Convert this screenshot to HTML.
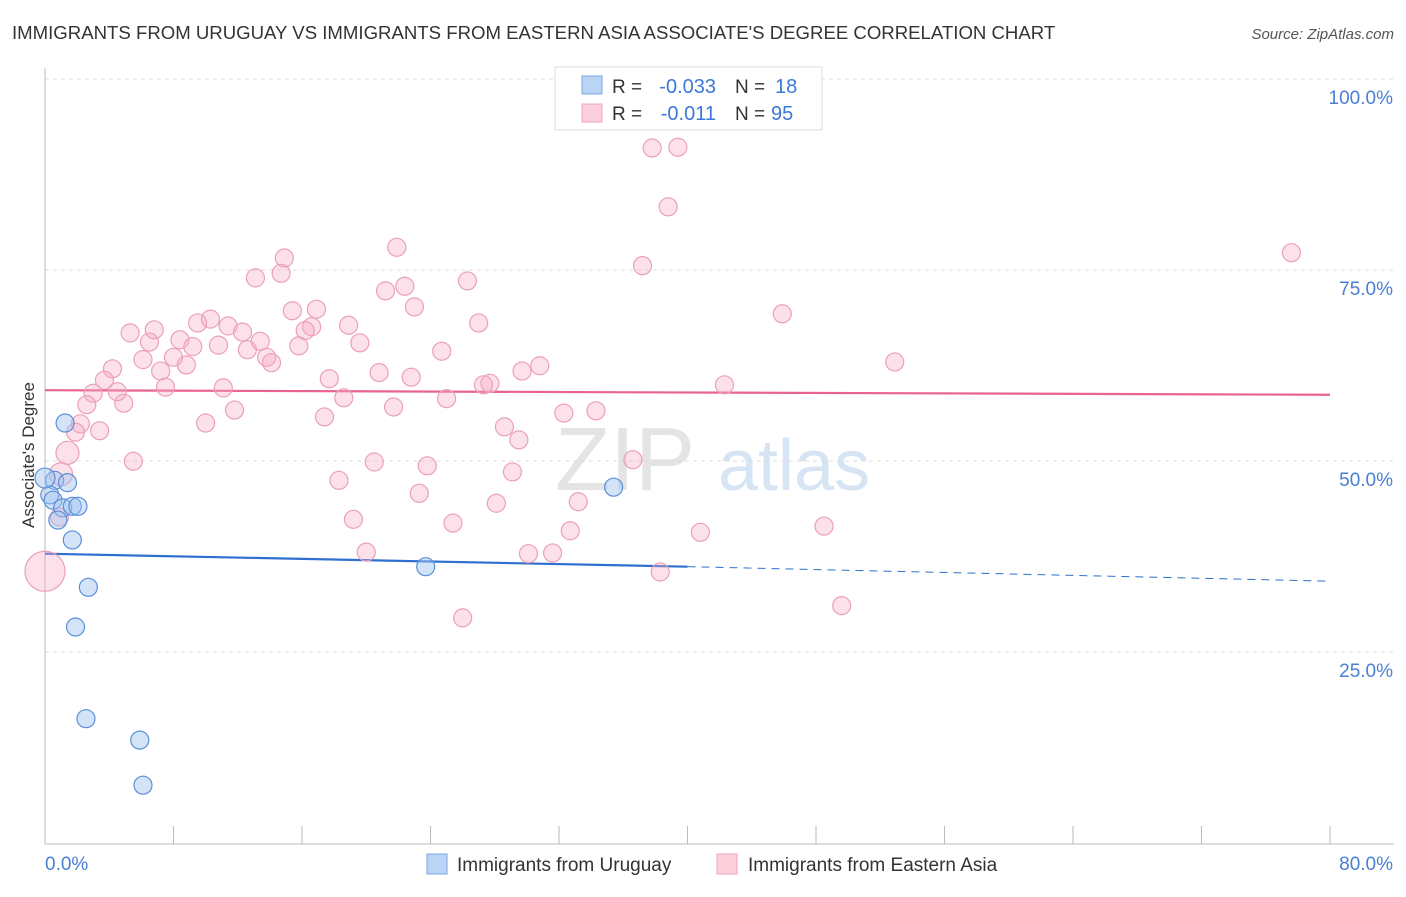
<!DOCTYPE html>
<html><head><meta charset="utf-8"><style>
body{margin:0;background:#fff;font-family:"Liberation Sans",sans-serif;}
svg text{font-family:"Liberation Sans",sans-serif;}
</style></head><body>
<svg id="chart" width="1406" height="892" xmlns="http://www.w3.org/2000/svg">
<text x="12" y="39" font-size="18.6" fill="#333">IMMIGRANTS FROM URUGUAY VS IMMIGRANTS FROM EASTERN ASIA ASSOCIATE'S DEGREE CORRELATION CHART</text>
<text x="1394" y="39" font-size="15" fill="#555" text-anchor="end" font-style="italic">Source: ZipAtlas.com</text>
<g><text x="555" y="490" font-size="90" fill="#e4e4e4" font-family="Liberation Serif">ZIP</text><text x="718" y="490" font-size="72" fill="#d6e4f4">atlas</text></g>
<g id="grid"></g><g id="axes"></g><g id="trend"></g><g id="pts"></g>
<text transform="translate(34,455) rotate(-90)" font-size="17" fill="#333" text-anchor="middle">Associate's Degree</text>
<text x="45" y="870" font-size="19" fill="#4a7fd4">0.0%</text>
<text x="1393" y="870" font-size="19" fill="#4a7fd4" text-anchor="end">80.0%</text>
<g>
<rect x="555" y="67" width="267" height="63" fill="#fff" stroke="#ddd"/>
<rect x="582" y="76" width="20" height="18" fill="#b9d4f5" stroke="#7aa7e0"/>
<rect x="582" y="104" width="20" height="18" fill="#fbd0dc" stroke="#eba4b8"/>
<text x="612" y="93" font-size="19" fill="#333">R =</text>
<text x="716" y="93" font-size="20" fill="#3c78d8" text-anchor="end">-0.033</text>
<text x="735" y="93" font-size="19" fill="#333">N =</text>
<text x="775" y="93" font-size="20" fill="#3c78d8">18</text>
<text x="612" y="120" font-size="19" fill="#333">R =</text>
<text x="716" y="120" font-size="20" fill="#3c78d8" text-anchor="end">-0.011</text>
<text x="735" y="120" font-size="19" fill="#333">N =</text>
<text x="771" y="120" font-size="20" fill="#3c78d8">95</text>
</g>
<g>
<rect x="427" y="854" width="20" height="20" fill="#b9d4f5" stroke="#7aa7e0"/>
<text x="457" y="871" font-size="19" fill="#333">Immigrants from Uruguay</text>
<rect x="717" y="854" width="20" height="20" fill="#fbd0dc" stroke="#eba4b8"/>
<text x="748" y="871" font-size="19" fill="#333">Immigrants from Eastern Asia</text>
</g>
</svg>
<script>
const yTicks=[25,50,75,100];
const yTickLabels=["25.0%","50.0%","75.0%","100.0%"];
const xTicks=[0,8,16,24,32,40,48,56,64,72,80];
const blueX=[1.25,0.6,1.4,0.3,0.5,1.1,1.7,2.05,0.8,1.7,2.7,1.9,2.55,5.9,6.1,23.7,35.4,0];
const blueY=[55.1,47.6,47.3,45.7,45.0,44.0,44.2,44.2,42.4,39.8,33.6,28.4,16.4,13.6,7.7,36.3,46.7,47.9];
const pinkX=[37.8,39.4,38.8,77.6,37.2,21.9,13.1,14.9,14.7,22.4,21.2,26.3,23.0,16.9,15.4,10.3,9.5,11.4,6.8,5.3,12.3,16.6,18.9,27.0,45.9,6.5,8.4,10.8,12.6,13.4,9.2,15.8,19.6,24.7,16.2,8.0,8.8,6.1,13.8,14.1,30.8,29.7,20.8,52.9,4.2,3.7,7.2,17.7,22.8,27.7,27.3,42.3,7.5,11.1,3.0,4.5,4.9,2.6,18.6,25.0,21.7,11.8,32.3,34.3,17.4,10.0,2.2,1.9,3.4,28.6,29.5,1.4,5.5,20.5,36.6,23.8,1.0,18.3,29.1,23.3,33.2,28.1,19.2,25.4,0.9,32.7,40.8,48.5,20.0,30.1,31.6,0,38.3,49.6,26.0];
const pinkY=[91.1,91.2,83.4,77.4,75.7,78.1,74.1,76.7,74.7,73.0,72.4,73.7,70.3,70.0,69.8,68.7,68.2,67.8,67.3,66.9,67.0,67.7,67.9,68.2,69.4,65.7,66.0,65.3,64.7,65.8,65.1,65.2,65.6,64.5,67.2,63.7,62.7,63.4,63.7,63.0,62.6,61.9,61.7,63.1,62.2,60.7,61.9,60.9,61.1,60.3,60.1,60.1,59.8,59.7,59.0,59.2,57.7,57.5,58.4,58.3,57.2,56.8,56.4,56.7,55.9,55.1,55.0,53.9,54.1,54.6,52.9,51.2,50.1,50.0,50.3,49.5,48.4,47.6,48.7,45.9,44.8,44.6,42.5,42.0,42.8,41.0,40.8,41.6,38.2,38.0,38.1,35.7,35.6,31.2,29.6];
const blueTrend=[38.0,36.3,34.4];
const pinkTrend=[59.4,58.8];
const X=v=>45+v*1285/80, Y=v=>844-v*7.64;
const NS="http://www.w3.org/2000/svg";
function mk(p,t,a){const e=document.createElementNS(NS,t);for(const k in a)e.setAttribute(k,a[k]);document.getElementById(p).appendChild(e);return e;}
yTicks.forEach((t,i)=>{
 const l=mk('grid','line',{x1:45,x2:1394,y1:Y(t)-1,y2:Y(t)-1,stroke:'#ddd','stroke-dasharray':'4,4'});
 
 
 const tx=mk('grid','text',{x:1393,y:Y(t)+24,'font-size':19,fill:'#4a7fd4','text-anchor':'end'});
 tx.textContent=yTickLabels[i];
 
 
});
const ax=mk('axes','line',{x1:45,x2:45,y1:68,y2:844,stroke:'#bbb'});


const bx=mk('axes','line',{x1:45,x2:1394,y1:844,y2:844,stroke:'#bbb'});


xTicks.forEach(t=>{const l=mk('axes','line',{x1:X(t),x2:X(t),y1:826,y2:844,stroke:'#bbb'});
 
 });
let e=mk('trend','line',{x1:X(0),y1:Y(pinkTrend[0]),x2:X(80),y2:Y(pinkTrend[1]),stroke:'#e8638d','stroke-width':2.2});


e=mk('trend','line',{x1:X(0),y1:Y(blueTrend[0]),x2:X(40),y2:Y(blueTrend[1]),stroke:'#2f6fd0','stroke-width':2.2});


e=mk('trend','line',{x1:X(40),y1:Y(blueTrend[1]),x2:X(80),y2:Y(blueTrend[2]),stroke:'#2f6fd0','stroke-width':1,'stroke-dasharray':'8,6'});


pinkX.forEach((v,i)=>{let r=9;if(v===0)r=20;else if(v<1.5&&pinkY[i]>47&&pinkY[i]<52)r=11.5;
 const c=mk('pts','circle',{cx:X(v),cy:Y(pinkY[i]),r:r,fill:'rgba(246,170,195,0.35)',stroke:'#eba0b8','stroke-width':1.2});
 
 });
blueX.forEach((v,i)=>{const r=v===0?10:9;
 const c=mk('pts','circle',{cx:X(v),cy:Y(blueY[i]),r:r,fill:'rgba(160,196,240,0.45)',stroke:'#5b8fd8','stroke-width':1.2});
 
 });
</script>
</body></html>
